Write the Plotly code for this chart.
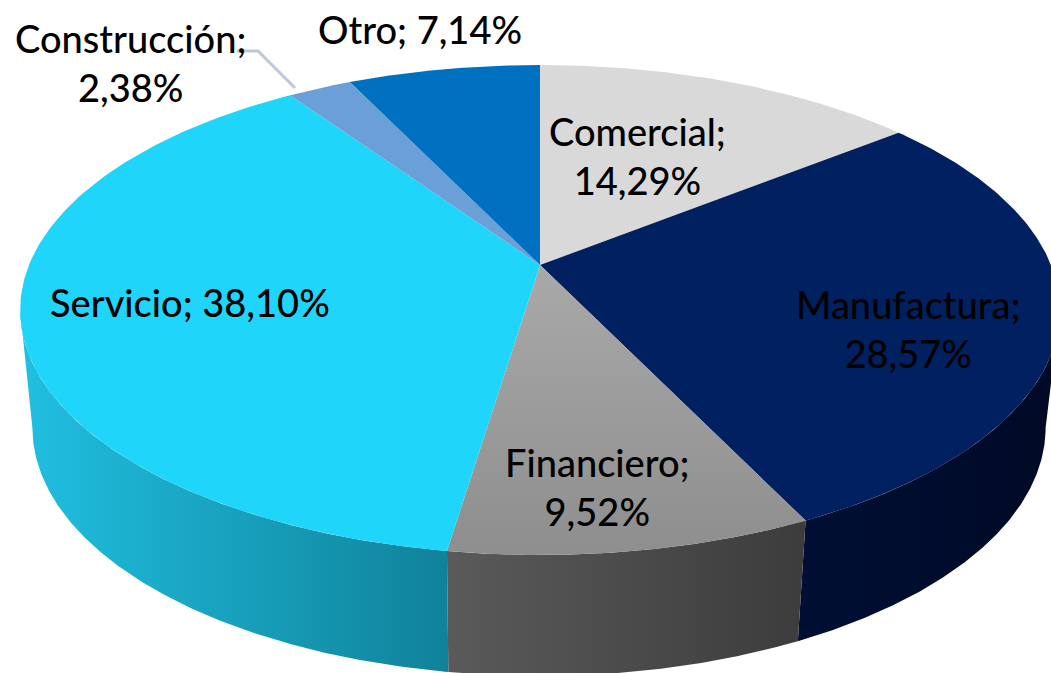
import numpy as np
import plotly.graph_objects as go

# Data
categories = ["Comercial", "Manufactura", "Financiero", "Servicio", "Construcción", "Otro"]
values = [14.29, 28.57, 9.52, 38.10, 2.38, 7.14]
top_colors = ["#d9d9d9", "#002060", "#9c9c9c", "#20d5fa", "#6a9fd8", "#0070c0"]

# Styling tables (not data)
TOP_GRAD = {"Financiero": ("#a9a9a9", "#8e8e8e")}
SIDE_GRAD = {
    "Manufactura": ("#000f34", "#000a26"),
    "Financiero": ("#5a5a5a", "#3c3c3c"),
    "Servicio": ("#20bfe0", "#10829a"),
}
LABEL_XY = {
    "Comercial": (637, 155),
    "Manufactura": (908, 328),
    "Financiero": (597, 486),
    "Servicio": (190, 302),
    "Construcción": (130, 62),
    "Otro": (420, 29),
}
ONE_LINE = {"Servicio", "Otro"}
FONT = "Lato, 'Open Sans', sans-serif"
FONT_SIZE = 38

# Perspective disc projection, in pixel-based axis units
K = 0.1837
CX, CY, R, S = 540, 265, 511, 236.7
CX2, CY2, R2, S2 = 539, 382, 498, 240
# Wall silhouette: the disc's horizontal extremes under this projection
SIL = np.arccos(-K)
VIS_LO, VIS_HI = SIL, 2 * np.pi - SIL


def project(theta, cx, cy, r, s):
    x, y = np.sin(theta), np.cos(theta)
    d = 1 + K * y
    return cx + r * x / d, cy - s * y / d


fig = go.Figure()
edges = np.concatenate([[0], np.cumsum(values)]) / sum(values) * 2 * np.pi

# Side walls first, only over the visible front arc
for i, name in enumerate(categories):
    lo, hi = max(edges[i], VIS_LO), min(edges[i + 1], VIS_HI)
    if lo >= hi or name not in SIDE_GRAD:
        continue
    t = np.linspace(lo, hi, 200)
    xt, yt = project(t, CX, CY, R, S)
    xb, yb = project(t[::-1], CX2, CY2, R2, S2)
    c0, c1 = SIDE_GRAD[name]
    fig.add_trace(go.Scatter(
        x=np.concatenate([xt, xb]), y=np.concatenate([yt, yb]),
        mode="lines", line=dict(width=0), fill="toself",
        fillgradient=dict(type="horizontal", colorscale=[[0, c0], [1, c1]]),
        hoverinfo="skip", showlegend=False,
    ))

# Top faces
for i, name in enumerate(categories):
    t = np.linspace(edges[i], edges[i + 1], 160)
    xt, yt = project(t, CX, CY, R, S)
    x = np.concatenate([[CX], xt, [CX]])
    y = np.concatenate([[CY], yt, [CY]])
    kw = dict(fillcolor=top_colors[i])
    if name in TOP_GRAD:
        c0, c1 = TOP_GRAD[name]
        kw = dict(fillgradient=dict(type="vertical", colorscale=[[0, c1], [1, c0]]))
    fig.add_trace(go.Scatter(
        x=x, y=y, mode="lines", line=dict(width=0), fill="toself",
        name=name, hoverinfo="name", showlegend=False, **kw,
    ))

# Leader line for the Construcción label
fig.add_trace(go.Scatter(
    x=[237, 258, 295], y=[51, 51, 88], mode="lines",
    line=dict(color="#bcc8da", width=3), hoverinfo="skip", showlegend=False,
))

for name, val in zip(categories, values):
    sep = " " if name in ONE_LINE else "<br>"
    lx, ly = LABEL_XY[name]
    fig.add_annotation(
        x=lx, y=ly, xref="x", yref="y", showarrow=False, align="center",
        text=f"{name};{sep}{val:.2f}%".replace(".", ","),
        font=dict(family=FONT, size=FONT_SIZE, color="#000000", weight=500),
    )

fig.update_layout(
    width=1051, height=673, margin=dict(l=0, r=0, t=0, b=0),
    paper_bgcolor="#ffffff", plot_bgcolor="#ffffff",
    xaxis=dict(range=[0, 1051], visible=False, fixedrange=True),
    yaxis=dict(range=[673, 0], visible=False, fixedrange=True),
)
fig.write_html(
    "out.html",
    config={"displayModeBar": False},
    post_script="document.body.style.margin='0';document.body.style.overflow='hidden';",
)
